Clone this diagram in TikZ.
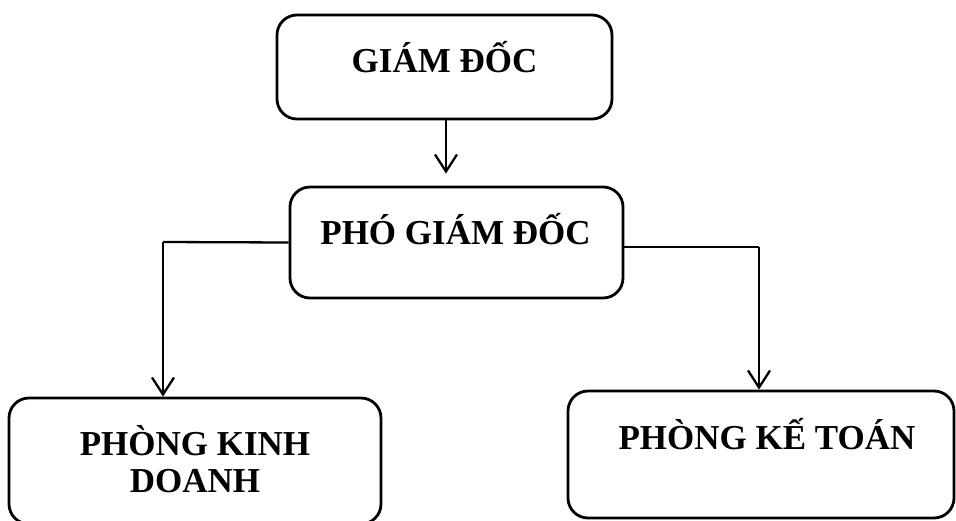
\documentclass[tikz,border=0pt]{standalone}
\usepackage{fontspec}
\setmainfont{Liberation Serif}
\usetikzlibrary{arrows.meta}
\begin{document}
\begin{tikzpicture}[x=1pt,y=-1pt,
  box/.style={draw, line width=2.8pt, rounded corners=20pt, inner sep=0pt},
  label/.style={anchor=base, font=\fontsize{35}{37}\selectfont\bfseries, align=center},
  link/.style={line width=2.3pt},
  arr/.style={link, -{Straight Barb[length=17pt, width=22pt, line width=2.3pt]}}]
\useasboundingbox (0,0) rectangle (956,520);
\begin{scope}
\clip (0,0) rectangle (956,520);
% boxes
\node[box, minimum width=335pt, minimum height=104pt] (b1) at (444.5,67) {};
\node[box, minimum width=333pt, minimum height=111pt] (b2) at (456.5,242.5) {};
\node[box, minimum width=372pt, minimum height=126pt] (b3) at (195,461) {};
\node[box, minimum width=386pt, minimum height=127pt] (b4) at (761,454.5) {};
\end{scope}
% labels
\node[label] (t1) at (444.5,72) {GIÁM ĐỐC};
\node[label] (t2) at (455.5,244) {PHÓ GIÁM ĐỐC};
\node[label] (t3) at (195,492) {PHÒNG KINH\\DOANH};
\node[label] (t4) at (767,449) {PHÒNG KẾ TOÁN};
% connectors
\coordinate (k1) at (163,242);
\coordinate (k2) at (759,247);
\draw[arr, shorten >=12pt] (b1.south -| 446,0) -- (b2.north -| 446,0);
\draw[link] (b2.west) -- (k1);
\draw[arr] (k1) -- (k1 |- b3.north);
\draw[link] (b2.east |- k2) -- (k2);
\draw[arr] (k2) -- (k2 |- b4.north);
\end{tikzpicture}
\end{document}
